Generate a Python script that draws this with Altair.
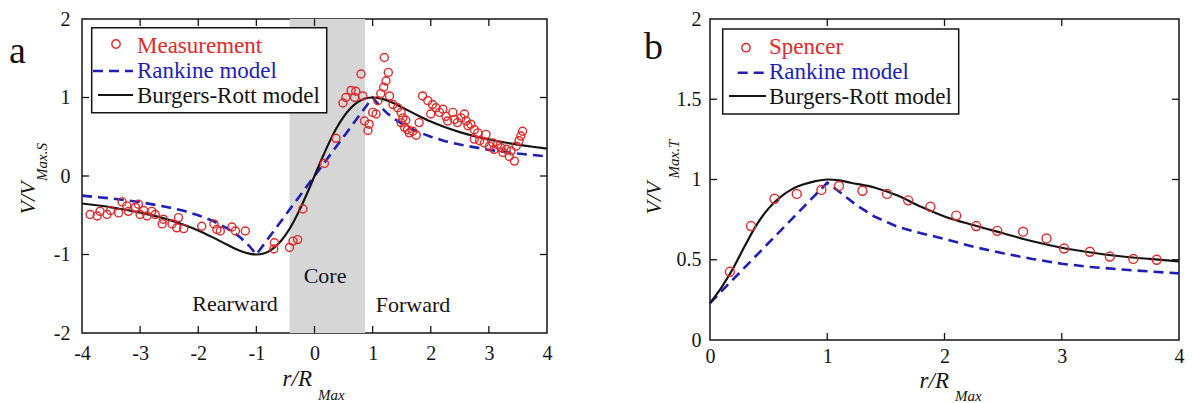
import altair as alt
import pandas as pd

FONT = "Liberation Serif"
RED = "#dd2a2a"
BLUE = "#1f1fb5"
BLACK = "#141414"
GRAY = "#d6d6d6"

# ---------------- panel a data ----------------
a_meas_r = [-3.86, -3.74, -3.69, -3.57, -3.51, -3.37, -3.31, -3.23, -3.20, -3.08, -3.03, -3.00, -2.94,
            -2.88, -2.80, -2.74, -2.62, -2.60, -2.45, -2.37, -2.34, -2.25, -1.94, -1.73, -1.68, -1.62,
            -1.42, -1.36, -1.19, -0.69, -0.70, -0.43, -0.37, -0.29, -0.20,
            0.17, 0.37, 0.49, 0.54, 0.63, 0.71, 0.69, 0.80, 0.83, 0.86, 0.94, 0.92, 1.00, 1.06, 1.09,
            1.14, 1.19, 1.20, 1.27, 1.23, 1.29, 1.35, 1.43, 1.49, 1.52, 1.49, 1.57, 1.60, 1.69, 1.75,
            1.80, 1.55, 1.63,
            1.86, 1.95, 2.03, 2.00, 2.09, 2.15, 2.21, 2.26, 2.29, 2.38, 2.41, 2.46, 2.52, 2.58, 2.61,
            2.64, 2.69, 2.75, 2.81, 2.75, 2.84, 2.95, 2.92, 3.01, 3.07, 3.09, 3.15, 3.21, 3.24, 3.30,
            3.35, 3.38, 3.44, 3.47, 3.52, 3.58, 3.55]
a_meas_v = [-0.49, -0.51, -0.45, -0.49, -0.44, -0.47, -0.33, -0.38, -0.45, -0.40, -0.36, -0.49, -0.44,
            -0.51, -0.45, -0.49, -0.61, -0.55, -0.61, -0.66, -0.53, -0.67, -0.64, -0.61, -0.68, -0.70,
            -0.65, -0.70, -0.70, -0.85, -0.93, -0.91, -0.83, -0.81, -0.42,
            0.16, 0.48, 0.93, 1.00, 1.09, 1.08, 1.00, 1.30, 1.02, 0.70, 0.66, 0.58, 0.81, 0.79, 0.96,
            1.05, 1.13, 1.51, 1.32, 1.21, 1.02, 0.91, 0.87, 0.81, 0.74, 0.68, 0.71, 0.59, 0.57, 0.52,
            0.68, 0.62, 0.55,
            1.02, 0.96, 0.91, 0.79, 0.87, 0.81, 0.85, 0.76, 0.70, 0.81, 0.72, 0.68, 0.74, 0.79, 0.70,
            0.64, 0.66, 0.59, 0.55, 0.47, 0.45, 0.53, 0.42, 0.38, 0.42, 0.34, 0.40, 0.36, 0.30, 0.34,
            0.25, 0.32, 0.19, 0.38, 0.45, 0.57, 0.51]

a_br_r = [-4, -3.75, -3.5, -3.25, -3, -2.75, -2.5, -2.25, -2, -1.75, -1.5, -1.375, -1.25, -1.125, -1,
          -0.875, -0.75, -0.625, -0.5, -0.375, -0.25, -0.125, 0,
          0.125, 0.25, 0.375, 0.5, 0.625, 0.75, 0.875, 1, 1.125, 1.25, 1.375, 1.5, 1.75, 2, 2.25,
          2.5, 2.75, 3, 3.25, 3.5, 3.75, 4]
a_br_v = [-0.350, -0.373, -0.399, -0.430, -0.466, -0.508, -0.559, -0.620, -0.694, -0.782, -0.877,
          -0.922, -0.961, -0.989, -1.0, -0.987, -0.944, -0.867, -0.754, -0.604, -0.422, -0.217, 0,
          0.217, 0.422, 0.604, 0.754, 0.867, 0.944, 0.987, 1.0, 0.989, 0.961, 0.922, 0.877, 0.782,
          0.694, 0.620, 0.559, 0.508, 0.466, 0.430, 0.399, 0.373, 0.350]

a_rk_r = [-4, -3.5, -3, -2.5, -2.25, -2, -1.75, -1.5, -1.375, -1.25, -1.125, -1, 0,
          1, 1.125, 1.25, 1.375, 1.5, 1.75, 2, 2.25, 2.5, 3, 3.5, 4]
a_rk_v = [-0.25, -0.286, -0.333, -0.4, -0.444, -0.5, -0.571, -0.667, -0.727, -0.8, -0.889, -1.0, 0,
          1.0, 0.889, 0.8, 0.727, 0.667, 0.571, 0.5, 0.444, 0.4, 0.333, 0.286, 0.25]

a_core = [-0.43, 0.87]
a_xvals = [-4, -3, -2, -1, 0, 1, 2, 3, 4]
a_yvals = [-2, -1, 0, 1, 2]
a_xin = [-3, -2, -1, 0, 1, 2, 3]
a_yin = [-1, 0, 1]

# ---------------- panel b data ----------------
b_sp_r = [0.17, 0.35, 0.55, 0.74, 0.95, 1.10, 1.30, 1.51, 1.69, 1.88, 2.10, 2.27, 2.45, 2.67, 2.87,
          3.02, 3.24, 3.41, 3.61, 3.81]
b_sp_v = [0.425, 0.71, 0.88, 0.91, 0.935, 0.96, 0.93, 0.91, 0.87, 0.83, 0.775, 0.71, 0.68, 0.675,
          0.633, 0.57, 0.55, 0.52, 0.505, 0.50]

b_br_r = [0, 0.1, 0.2, 0.3, 0.4, 0.5, 0.6, 0.7, 0.8, 0.9, 1.0, 1.1, 1.2, 1.4, 1.6, 1.8, 2.0, 2.25,
          2.5, 2.75, 3.0, 3.25, 3.5, 3.75, 4.0]
b_br_v = [0.23, 0.33, 0.45, 0.59, 0.72, 0.82, 0.89, 0.94, 0.97, 0.99, 1.0, 0.995, 0.98, 0.95, 0.90,
          0.83, 0.77, 0.715, 0.665, 0.615, 0.575, 0.545, 0.522, 0.505, 0.49]

b_rk_r = [0, 1.0, 1.1, 1.25, 1.4, 1.6, 1.8, 2.0, 2.25, 2.5, 2.75, 3.0, 3.25, 3.5, 3.75, 4.0]
b_rk_v = [0.23, 0.98, 0.925, 0.84, 0.77, 0.705, 0.665, 0.63, 0.58, 0.54, 0.505, 0.475, 0.455, 0.44,
          0.427, 0.415]

b_xvals = [0, 1, 2, 3, 4]
b_yvals = [0, 0.5, 1, 1.5, 2]
b_xin = [1, 2, 3]
b_yin = [0.5, 1, 1.5]

WA, HA = 465, 314
WB, HB = 469, 321
TICK = 7

one = pd.DataFrame({"k": [0]})
LBL = "datum.value < 0 ? '-' + abs(datum.value) : '' + datum.value"


def txt(s, x, y, size=22, color=BLACK, align="left", baseline="alphabetic", angle=None, italic=False):
    kw = dict(text=s, font=FONT, fontSize=size, color=color, align=align, baseline=baseline)
    if angle is not None:
        kw["angle"] = angle
    if italic:
        kw["fontStyle"] = "italic"
    return alt.Chart(one).mark_text(**kw).encode(x=alt.value(x), y=alt.value(y))


def panel(W, H, xdom, ydom, xvals, yvals, xin, yin, pad_x, pad_y, curves, pts, pt_size, extra):
    xs = alt.Scale(domain=xdom, nice=False, zero=False)
    ys = alt.Scale(domain=ydom, nice=False, zero=False)
    xax = alt.Axis(values=xvals, title=None, tickSize=0, domain=False, grid=False, labelFont=FONT,
                   labelFontSize=20, labelColor=BLACK, labelPadding=pad_x, labelFlush=False,
                   labelExpr=LBL)
    yax = alt.Axis(values=yvals, title=None, tickSize=0, domain=False, grid=False, labelFont=FONT,
                   labelFontSize=20, labelColor=BLACK, labelPadding=pad_y, labelExpr=LBL)
    X = alt.X("x:Q", scale=xs, axis=xax)
    Y = alt.Y("y:Q", scale=ys, axis=yax)
    layers = list(extra["under"](X, Y, H))
    rk = pd.DataFrame({"x": curves["rk"][0], "y": curves["rk"][1]})
    br = pd.DataFrame({"x": curves["br"][0], "y": curves["br"][1]})
    layers.append(alt.Chart(rk).mark_line(color=BLUE, strokeWidth=2.6, strokeDash=[10, 6]).encode(x=X, y=Y))
    layers.append(alt.Chart(br).mark_line(color=BLACK, strokeWidth=2.2, interpolate="monotone").encode(x=X, y=Y))
    pdf = pd.DataFrame({"x": pts[0], "y": pts[1]})
    layers.append(alt.Chart(pdf).mark_point(shape="circle", filled=False, color=RED, strokeWidth=1.4,
                                             size=pt_size, opacity=1).encode(x=X, y=Y))
    layers.extend(extra["over"])
    # inward ticks
    xt = pd.DataFrame({"x": xin})
    yt = pd.DataFrame({"y": yin})
    tk = dict(color=BLACK, strokeWidth=1.3)
    layers.append(alt.Chart(xt).mark_rule(**tk).encode(x=X, y=alt.value(H), y2=alt.value(H - TICK)))
    layers.append(alt.Chart(xt).mark_rule(**tk).encode(x=X, y=alt.value(0), y2=alt.value(TICK)))
    layers.append(alt.Chart(yt).mark_rule(**tk).encode(y=Y, x=alt.value(0), x2=alt.value(TICK)))
    layers.append(alt.Chart(yt).mark_rule(**tk).encode(y=Y, x=alt.value(W), x2=alt.value(W - TICK)))
    return alt.layer(*layers).properties(width=W, height=H)


def legend(x1, x2, y1, y2, sym, rk_line, br_line, tx, bl, label1):
    out = [alt.Chart(one).mark_rect(fill="white", stroke=BLACK, strokeWidth=1.5).encode(
        x=alt.value(x1), x2=alt.value(x2), y=alt.value(y1), y2=alt.value(y2))]
    out.append(alt.Chart(one).mark_point(shape="circle", filled=False, color=RED, strokeWidth=1.4,
                                         size=70, opacity=1).encode(x=alt.value(sym[0]), y=alt.value(sym[1])))
    out.append(alt.Chart(one).mark_rule(color=BLUE, strokeWidth=2.6, strokeDash=[10, 6]).encode(
        x=alt.value(rk_line[0]), x2=alt.value(rk_line[1]), y=alt.value(rk_line[2])))
    out.append(alt.Chart(one).mark_rule(color=BLACK, strokeWidth=2.2).encode(
        x=alt.value(br_line[0]), x2=alt.value(br_line[1]), y=alt.value(br_line[2])))
    out.append(txt(label1, tx, bl[0], size=23, color=RED))
    out.append(txt("Rankine model", tx, bl[1], size=23, color=BLUE))
    out.append(txt("Burgers-Rott model", tx, bl[2], size=23, color=BLACK))
    return out


def a_under(X, Y, H):
    core = pd.DataFrame({"x": [a_core[0]], "x2": [a_core[1]]})
    return [alt.Chart(core).mark_rect(color=GRAY).encode(x=X, x2="x2:Q", y=alt.value(0), y2=alt.value(H))]


def b_under(X, Y, H):
    return []


a_over = legend(9.7, 244.7, 8.7, 93.7, (34, 25), (11, 51, 52), (16, 51, 76), 55, (34, 59, 84),
                "Measurement")
a_over += [
    txt("Rearward", 153, 292, size=22, align="center"),
    txt("Core", 243, 264, size=22, align="center"),
    txt("Forward", 331, 293, size=22, align="center"),
    txt("a", -73, 44, size=38),
    txt("V/V", -54, 179, size=22, align="center", baseline="middle", angle=270, italic=True),
    txt("Max.S", -40, 143, size=15, align="center", baseline="middle", angle=270, italic=True),
    txt("r/R", 230, 367, size=23, align="right", italic=True),
    txt("Max", 236, 381, size=15, italic=True),
]

b_over = legend(12.7, 248.7, 10, 95, (36, 28.7), (27.7, 56, 53.7), (19, 56, 77), 59, (35, 60, 85),
                "Spencer")
b_over += [
    txt("b", -66, 40, size=38),
    txt("V/V", -56, 179, size=22, align="center", baseline="middle", angle=270, italic=True),
    txt("Max.T", -36, 140, size=15, align="center", baseline="middle", angle=270, italic=True),
    txt("r/R", 239, 369, size=23, align="right", italic=True),
    txt("Max", 245, 382, size=15, italic=True),
]

pa = panel(WA, HA, [-4, 4], [-2, 2], a_xvals, a_yvals, a_xin, a_yin, 10, 12,
           {"rk": (a_rk_r, a_rk_v), "br": (a_br_r, a_br_v)}, (a_meas_r, a_meas_v), 64,
           {"under": a_under, "over": a_over})
pb = panel(WB, HB, [0, 4], [0, 2], b_xvals, b_yvals, b_xin, b_yin, 6, 9,
           {"rk": (b_rk_r, b_rk_v), "br": (b_br_r, b_br_v)}, (b_sp_r, b_sp_v), 80,
           {"under": b_under, "over": b_over})

chart = alt.hconcat(pa, pb, spacing=89).properties(
    padding={"left": 8, "top": 8, "right": 5, "bottom": 5}
).configure(background="white").configure_view(stroke=BLACK, strokeWidth=1.5)

chart.save("out.html", embed_options={"renderer": "svg", "actions": False})
